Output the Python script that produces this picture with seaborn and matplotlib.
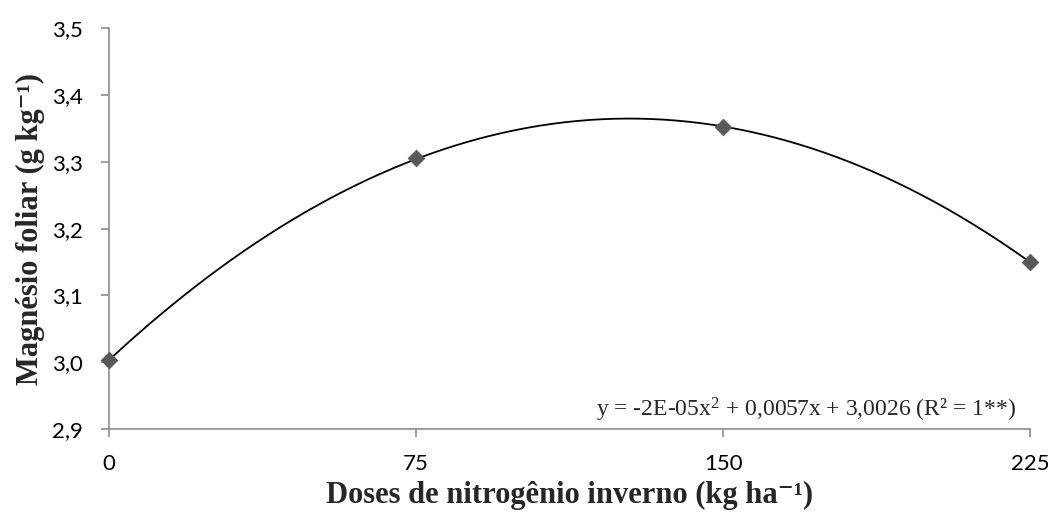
import numpy as np
import pandas as pd
import matplotlib
matplotlib.use("Agg")
import matplotlib.pyplot as plt
import seaborn as sns

doses = [0, 75, 150, 225]
magnesio = [3.003, 3.305, 3.352, 3.150]
x_ticks = [0, 75, 150, 225]
y_ticks = [2.9, 3.0, 3.1, 3.2, 3.3, 3.4, 3.5]
y_tick_labels = ["2,9", "3,0", "3,1", "3,2", "3,3", "3,4", "3,5"]
equation = "y = -2E-05x$^2$ + 0,0057x + 3,0026 (R² = 1**)"
x_label = "Doses de nitrogênio inverno (kg ha⁻¹)"
y_label = "Magnésio foliar (g kg⁻¹)"

sns.set_style("white")
plt.rcParams['font.family'] = ['Lato', 'DejaVu Sans']
plt.rcParams['mathtext.fontset'] = 'custom'
plt.rcParams['mathtext.rm'] = 'Liberation Serif'
plt.rcParams['mathtext.it'] = 'Liberation Serif:italic'
plt.rcParams['mathtext.bf'] = 'Liberation Serif:bold'

fig = plt.figure(figsize=(10.48, 5.22), dpi=100)
ax = fig.add_axes([0.104, 0.178, 0.879, 0.768])

# quadratic trendline fitted to the points
coef = np.polyfit(doses, magnesio, 2)
xs = np.linspace(0, 225, 300)
curve = pd.DataFrame({"x": xs, "y": np.polyval(coef, xs)})
sns.lineplot(data=curve, x="x", y="y", ax=ax, color="black", linewidth=1.3)

pts = pd.DataFrame({"x": doses, "y": magnesio})
sns.scatterplot(data=pts, x="x", y="y", ax=ax, marker="D", s=70,
                color="#595959", edgecolor="#595959", zorder=5, clip_on=False)

ax.set_xlim(0, 225)
ax.set_ylim(2.9, 3.5)
ax.set_xticks(x_ticks)
ax.set_xticklabels([str(v) for v in x_ticks])
ax.set_yticks(y_ticks)
ax.set_yticklabels(y_tick_labels)

for side in ["top", "right"]:
    ax.spines[side].set_visible(False)
for side in ["left", "bottom"]:
    ax.spines[side].set_color("#8c8c8c")
    ax.spines[side].set_linewidth(1.2)
ax.tick_params(axis="both", which="major", direction="out", length=6,
               width=1.2, color="#8c8c8c", labelsize=16, labelcolor="black",
               bottom=True, left=True)
ax.tick_params(axis="x", pad=12)
ax.tick_params(axis="y", pad=13)

serif = ['Liberation Serif', 'DejaVu Serif']
ax.set_xlabel(x_label, family=serif, fontsize=22, fontweight="bold", labelpad=5)
ax.set_ylabel(y_label, family=serif, fontsize=22, fontweight="bold", labelpad=5)

ax.text(0.985, 0.012, equation, transform=ax.transAxes, ha="right", va="bottom",
        family=serif, fontsize=17)

fig.savefig("out.png", dpi=100, facecolor="white")
